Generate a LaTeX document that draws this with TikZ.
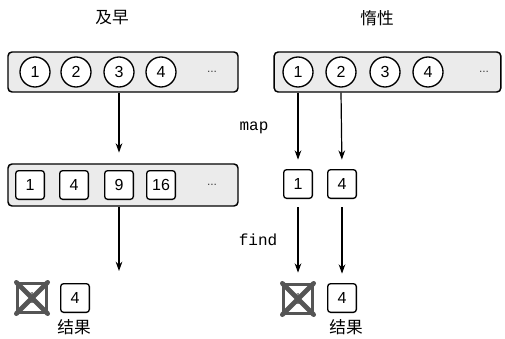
\documentclass[tikz,border=0pt]{standalone}
\usepackage{fontspec}
\setmainfont{Liberation Sans}
\setmonofont{Liberation Mono}
\newfontfamily\cjk{Noto Sans CJK SC}
\usetikzlibrary{arrows.meta}

\definecolor{barfill}{RGB}{235,235,235}
\definecolor{crossgray}{RGB}{85,85,85}

\tikzset{every picture/.style={line width=0.75pt}}
\tikzset{
  bar/.style={draw, rounded corners=3pt, fill=barfill, line width=1.1pt, minimum height=30pt, inner sep=0pt},
  ball/.style={circle, draw, fill=white, line width=1pt, minimum size=22.5pt, inner sep=0pt, font=\fontsize{12}{12}\selectfont},
  cell/.style={draw, rounded corners=2.2pt, fill=white, line width=1pt, minimum size=21.5pt, inner sep=0pt, font=\fontsize{12}{12}\selectfont},
  dead/.style={draw=crossgray, fill=white, line width=2pt, minimum size=21.5pt, inner sep=0pt, text=gray, font=\fontsize{12}{12}\selectfont},
  etc/.style={font=\fontsize{9}{9}\selectfont, text=darkgray},
  title/.style={font=\cjk\fontsize{12.5}{12.5}\selectfont},
  op/.style={font=\ttfamily\fontsize{12}{12}\selectfont},
  arr/.style={-{Stealth[length=7pt,width=5pt]}, line width=0.9pt},
}

\begin{document}
\begin{tikzpicture}[x=0.75pt,y=0.75pt,yscale=-1,xscale=1]
	\useasboundingbox (0,0) rectangle (505,338);

	% eager side
	\node[title] (eagerT) at (112,18) {及早};
	\node[bar, minimum width=172.5pt] (eBar) at (123,72) {};
	\node[ball] (e1) at (35,72) {1};
	\node[ball] (e2) at (76,72) {2};
	\node[ball] (e3) at (119,72) {3};
	\node[ball] (e4) at (161,72) {4};
	\node[etc] (eDots) at (212,72) {...};

	\node[bar, minimum width=172.5pt, minimum height=31.5pt] (sqBar) at (123,185) {};
	\node[cell] (s1) at (30,185) {1};
	\node[cell] (s2) at (74,185) {4};
	\node[cell] (s3) at (119,185) {9};
	\node[cell] (s4) at (161,185) {16};
	\node[etc] (sDots) at (212,185) {...};

	\draw[arr, shorten >=8pt] (e3 |- eBar.south) -- (s3 |- sqBar.north);
	\coordinate (eEnd) at (119,271);
	\draw[arr] (s3 |- sqBar.south) -- (eEnd);

	\node[dead] (eX) at (32,298) {1};
	\draw[crossgray, line width=3.5pt, line cap=round] (eX.north west) -- (eX.south east);
	\draw[crossgray, line width=3.5pt, line cap=round] (eX.north east) -- (eX.south west);
	\node[cell] (eRes) at (75,298) {4};
	\node[title] (eResT) at (74,327) {结果};

	% lazy side
	\node[title] (lazyT) at (377,18) {惰性};
	\node[bar, minimum width=170pt] (lBar) at (387.5,72) {};
	\node[ball] (l1) at (298,72) {1};
	\node[ball] (l2) at (341,72) {2};
	\node[ball] (l3) at (385,72) {3};
	\node[ball] (l4) at (428,72) {4};
	\node[etc] (lDots) at (484,72) {...};

	\node[op] (mapT) at (254,128) {map};
	\node[cell] (m1) at (298,184) {1};
	\node[cell] (m2) at (342,184) {4};
	\draw[arr, shorten >=7pt] (l1 |- lBar.south) -- (m1.north);
	\draw[arr, shorten >=7pt] (l2 |- lBar.south) -- (m2.north);

	\node[op] (findT) at (258,240) {find};
	\node[dead] (lX) at (298,299) {1};
	\draw[crossgray, line width=3.5pt, line cap=round] (lX.north west) -- (lX.south east);
	\draw[crossgray, line width=3.5pt, line cap=round] (lX.north east) -- (lX.south west);
	\node[cell] (lRes) at (342,298) {4};
	\node[title] (lResT) at (346,327) {结果};
	\draw[arr, shorten <=6pt, shorten >=8pt] (m1.south) -- (lX.north);
	\draw[arr, shorten <=6pt, shorten >=7pt] (m2.south) -- (lRes.north);

\end{tikzpicture}
\end{document}
